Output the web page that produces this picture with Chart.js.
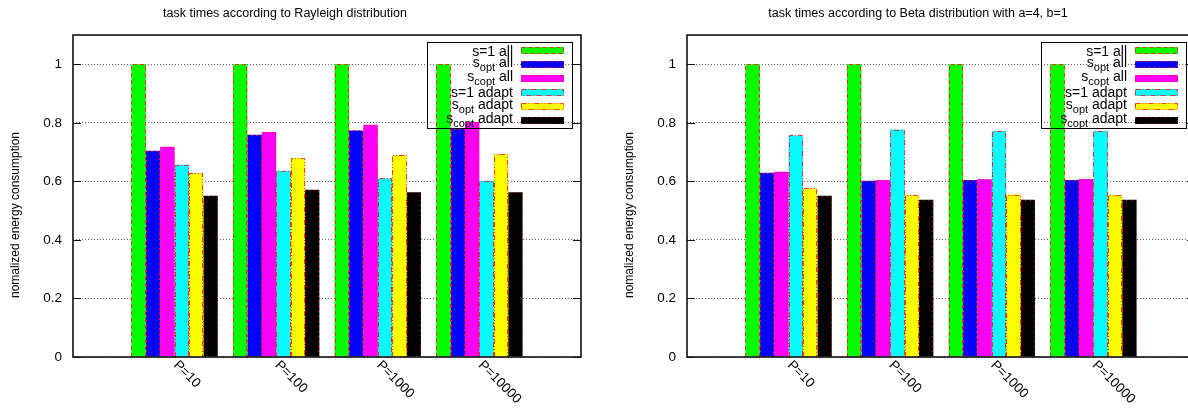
<!DOCTYPE html>
<html lang="en">
<head>
  <meta charset="UTF-8">
  <title>Normalized energy consumption</title>
  <script src="https://cdn.jsdelivr.net/npm/chart.js"></script>
  <style>
    body {
      margin: 0;
      width: 1188px;
      height: 410px;
      overflow: hidden;
      background: #fff;
      position: relative;
    }
    .panel {
      position: absolute;
      top: 0;
      width: 594px;
      height: 410px;
    }
    #left { left: 0; }
    #right { left: 614px; }
  </style>
</head>
<body>
  <div class="panel" id="left"><canvas id="rayleighChart"></canvas></div>
  <div class="panel" id="right"><canvas id="betaChart"></canvas></div>
  <script>
    // categories and series
    const categories = ["P=10", "P=100", "P=1000", "P=10000"];
    const seriesNames = ["s=1 all", "s_opt all", "s_copt all", "s=1 adapt", "s_opt adapt", "s_copt adapt"];
    const seriesColors = ["#00ff00", "#0000ff", "#ff00ff", "#00ffff", "#ffff00", "#000000"];
    const borderDashes = [[4, 3], [2, 3], [1, 2], [5, 2, 1, 2], [5, 2, 1, 2, 1, 2], [1, 4]];
    const yTicks = [0, 0.2, 0.4, 0.6, 0.8, 1];

    // Rayleigh distribution
    const rayleighS1All = [1, 1, 1, 1];
    const rayleighOptAll = [0.705, 0.759, 0.774, 0.779];
    const rayleighCoptAll = [0.718, 0.769, 0.793, 0.803];
    const rayleighS1Adapt = [0.657, 0.636, 0.610, 0.602];
    const rayleighOptAdapt = [0.628, 0.680, 0.690, 0.693];
    const rayleighCoptAdapt = [0.551, 0.571, 0.563, 0.563];

    // Beta distribution a=4, b=1
    const betaS1All = [1, 1, 1, 1];
    const betaOptAll = [0.629, 0.602, 0.605, 0.605];
    const betaCoptAll = [0.633, 0.605, 0.607, 0.608];
    const betaS1Adapt = [0.757, 0.777, 0.772, 0.772];
    const betaOptAdapt = [0.576, 0.553, 0.555, 0.553];
    const betaCoptAdapt = [0.551, 0.537, 0.537, 0.537];

    const FONT = '"Liberation Sans", Arial, Helvetica, sans-serif';

    // draws "s_opt all" with a subscript, right aligned at x
    function drawLabel(ctx, text, x, cy) {
      const m = text.match(/^(.*?)_([a-z]+)(.*)$/);
      ctx.textBaseline = "alphabetic";
      ctx.textAlign = "left";
      if (!m) {
        ctx.font = "14px " + FONT;
        const w = ctx.measureText(text).width;
        ctx.fillText(text, x - w, cy + 5);
        return;
      }
      ctx.font = "14px " + FONT;
      const w1 = ctx.measureText(m[1]).width;
      const w3 = ctx.measureText(m[3]).width;
      ctx.font = "11px " + FONT;
      const w2 = ctx.measureText(m[2]).width;
      let px = x - (w1 + w2 + w3);
      ctx.font = "14px " + FONT;
      ctx.fillText(m[1], px, cy + 3);
      px += w1;
      ctx.font = "11px " + FONT;
      ctx.fillText(m[2], px, cy + 7);
      px += w2;
      ctx.font = "14px " + FONT;
      ctx.fillText(m[3], px, cy + 3);
    }

    const decorPlugin = {
      id: "decor",
      afterDatasetsDraw(chart) {
        const ctx = chart.ctx;
        const area = chart.chartArea;
        const opts = chart.options.plugins.decor;
        ctx.save();

        // dashed red bar outlines
        chart.data.datasets.forEach((ds, i) => {
          const meta = chart.getDatasetMeta(i);
          ctx.strokeStyle = "rgba(255,20,20,0.85)";
          ctx.lineWidth = 1;
          ctx.setLineDash(borderDashes[i]);
          meta.data.forEach((el, j) => {
            if (ds.data[j] == null) return;
            const p = el.getProps(["x", "y", "width", "base"], true);
            const l = Math.round(p.x - p.width / 2) + 0.5;
            const r = Math.round(p.x + p.width / 2) - 0.5;
            const t = Math.round(p.y) + 0.5;
            const b = Math.round(p.base);
            ctx.beginPath();
            ctx.moveTo(l, b);
            ctx.lineTo(l, t);
            ctx.lineTo(r, t);
            ctx.lineTo(r, b);
            ctx.stroke();
          });
        });
        ctx.setLineDash([]);

        // frame and inward ticks
        const yScale = chart.scales.y;
        ctx.strokeStyle = "#111";
        ctx.lineWidth = 1.6;
        ctx.strokeRect(area.left, area.top, area.right - area.left, area.bottom - area.top);
        ctx.lineWidth = 1;
        yTicks.forEach(v => {
          const py = Math.round(yScale.getPixelForValue(v)) + 0.5;
          ctx.beginPath();
          ctx.moveTo(area.left, py);
          ctx.lineTo(area.left + 8, py);
          ctx.moveTo(area.right - 8, py);
          ctx.lineTo(area.right, py);
          ctx.stroke();
        });

        // legend (transparent, drawn over the bars)
        ctx.strokeStyle = "#000";
        ctx.lineWidth = 1;
        ctx.strokeRect(Math.round(area.right - 154) + 0.5, Math.round(area.top + 7) + 0.5, 145, 86);
        ctx.fillStyle = "#000";
        seriesNames.forEach((name, i) => {
          const cy = area.top + 15.5 + i * 13.9;
          ctx.fillStyle = "#000";
          drawLabel(ctx, name, area.right - 68, cy);
          const sx = Math.round(area.right - 60);
          const sy = Math.round(cy - 3.5);
          ctx.fillStyle = seriesColors[i];
          ctx.fillRect(sx, sy, 43, 7);
          ctx.strokeStyle = "rgba(255,20,20,0.85)";
          ctx.setLineDash(borderDashes[i]);
          ctx.strokeRect(sx + 0.5, sy + 0.5, 42, 6);
          ctx.setLineDash([]);
        });

        // rotated category labels
        const xScale = chart.scales.x;
        ctx.fillStyle = "#000";
        ctx.font = "13.5px " + FONT;
        ctx.textAlign = "left";
        ctx.textBaseline = "middle";
        categories.forEach((c, i) => {
          const px = xScale.getPixelForValue(i + 1);
          ctx.save();
          ctx.translate(px + 1, area.bottom + 6);
          ctx.rotate(Math.PI / 4);
          ctx.fillText(c, 0, 0);
          ctx.restore();
        });

        // title
        ctx.font = "12.5px " + FONT;
        ctx.textAlign = "center";
        ctx.textBaseline = "middle";
        ctx.fillText(opts.title, opts.titleX, 14);

        // y axis title
        ctx.save();
        ctx.translate(16, 215);
        ctx.rotate(-Math.PI / 2);
        ctx.font = "12px " + FONT;
        ctx.fillText("nomalized energy consumption", 0, 0);
        ctx.restore();

        ctx.restore();
      }
    };

    function makeChart(id, title, titleX, series) {
      const labels = [""].concat(categories, [""]);
      const datasets = series.map((vals, i) => ({
        label: seriesNames[i],
        data: [null].concat(vals, [null]),
        backgroundColor: seriesColors[i],
        borderWidth: 0,
        categoryPercentage: 0.85,
        barPercentage: 1.0
      }));
      return new Chart(document.getElementById(id), {
        type: "bar",
        data: { labels: labels, datasets: datasets },
        options: {
          responsive: true,
          maintainAspectRatio: false,
          animation: false,
          layout: { padding: { top: 35, right: 13, bottom: 0, left: 0 } },
          plugins: {
            legend: { display: false },
            tooltip: { enabled: false },
            decor: { title: title, titleX: titleX }
          },
          scales: {
            x: {
              offset: false,
              grid: { display: false },
              border: { display: false },
              ticks: { display: false },
              afterFit: s => { s.height = 53; }
            },
            y: {
              min: 0,
              max: 1.1,
              afterBuildTicks: s => { s.ticks = yTicks.map(v => ({ value: v })); },
              afterFit: s => { s.width = 73; },
              grid: { color: "rgba(0,0,0,0.6)", drawTicks: false, lineWidth: 1 },
              border: { display: false, dash: [1, 2] },
              ticks: {
                padding: 11,
                color: "#000",
                font: { family: FONT, size: 13.5 },
                callback: v => String(Math.round(v * 10) / 10)
              }
            }
          }
        },
        plugins: [decorPlugin]
      });
    }

    makeChart("rayleighChart", "task times according to Rayleigh distribution", 285,
      [rayleighS1All, rayleighOptAll, rayleighCoptAll, rayleighS1Adapt, rayleighOptAdapt, rayleighCoptAdapt]);
    makeChart("betaChart", "task times according to Beta distribution with a=4, b=1", 304,
      [betaS1All, betaOptAll, betaCoptAll, betaS1Adapt, betaOptAdapt, betaCoptAdapt]);
  </script>
</body>
</html>
